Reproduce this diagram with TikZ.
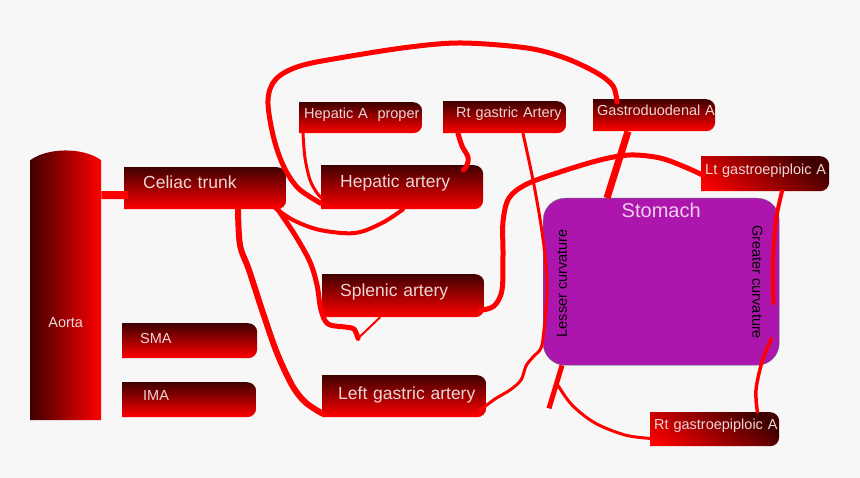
\documentclass[tikz,border=0pt]{standalone}
\usepackage{fontspec}
\setmainfont{Liberation Sans}
\usetikzlibrary{calc}

\definecolor{artred}{RGB}{255,0,0}
\definecolor{artdark}{RGB}{64,0,0}
\definecolor{labelpink}{RGB}{236,214,214}
\definecolor{stomfill}{RGB}{173,22,173}
\definecolor{stomline}{RGB}{105,100,120}
\definecolor{stomtext}{RGB}{240,206,240}
\definecolor{pagegray}{RGB}{247,247,247}

\tikzset{
  artshade/.style={top color=artdark, bottom color=artred},
  artbox/.style={anchor=north west, inner ysep=0pt, align=left, text=labelpink,
    path picture={\shade[artshade, rounded corners=9pt]
      ([xshift=-20pt]path picture bounding box.south west) rectangle (path picture bounding box.north east);}},
  bigbox/.style={artbox, minimum height=42pt, font=\fontsize{17.5}{20}\selectfont,
    text height=12.5pt, text depth=11pt},
  smallbox/.style={artbox, minimum height=32pt, font=\fontsize{14.5}{17}\selectfont,
    text height=10.4pt, text depth=9pt},
  artline/.style={draw=artred, line width=#1, line cap=round, line join=round},
  artline/.default=4pt,
  curvetext/.style={font=\fontsize{14.5}{17}\selectfont, text=black, inner sep=0pt},
}

\begin{document}
\begin{tikzpicture}[x=1pt,y=-1pt]
  \fill[pagegray] (0,0) rectangle (860,478);
  \useasboundingbox (0,0) rectangle (860,478);

  \node[anchor=north west, minimum width=71pt, minimum height=270pt, inner sep=0pt,
    text=labelpink, font=\fontsize{14.5}{17}\selectfont, text height=84pt, text depth=0pt,
    path picture={\shade[left color=artdark, right color=artred]
      ([yshift=-10pt]path picture bounding box.north west)
      .. controls ([xshift=18pt,yshift=3pt]path picture bounding box.north west)
      and ([xshift=-18pt,yshift=3pt]path picture bounding box.north east) ..
      ([yshift=-10pt]path picture bounding box.north east)
      -- (path picture bounding box.south east) -- (path picture bounding box.south west) -- cycle;}]
    (aorta) at (30,150) {Aorta};

  \node[bigbox, text width=124pt, inner xsep=19pt] (cel) at (124,167) {\rlap{Celiac trunk}};
  \node[bigbox, minimum height=44pt, text width=124pt, inner xsep=19pt] (hep) at (321,165) {\rlap{Hepatic artery}};
  \node[bigbox, minimum height=43pt, text width=126pt, inner xsep=18pt] (spl) at (322,274) {\rlap{Splenic artery}};
  \node[bigbox, text depth=6pt, text width=132pt, inner xsep=16pt] (lga) at (322,375) {\rlap{Left gastric artery}};
  \node[smallbox, minimum height=35pt, text depth=5pt, text width=99pt, inner xsep=18pt] (sma) at (122,323) {\rlap{SMA}};
  \node[smallbox, minimum height=35pt, text depth=8pt, text width=92pt, inner xsep=21pt] (ima) at (122,382) {\rlap{IMA}};
  \node[smallbox, minimum height=31pt, text width=113pt, inner xsep=5pt] (hap) at (299,102) {\rlap{Hepatic A~~proper}};
  \node[smallbox, text width=97pt, inner xsep=13pt] (rga) at (443,101) {\rlap{Rt gastric Artery}};
  \node[smallbox, text width=114pt, inner xsep=4pt] (gda) at (593,99) {\rlap{Gastroduodenal A}};
  \node[smallbox, minimum height=35pt, text width=120pt, inner xsep=4pt,
    artshade/.style={top color=artdark, bottom color=artred, shading angle=-35}] (lge) at (701,156) {\rlap{Lt gastroepiploic A}};
  \node[smallbox, minimum height=34pt, text width=121pt, inner xsep=4pt,
    artshade/.style={top color=artdark, bottom color=artred, shading angle=-35}] (rge) at (650,412) {\rlap{Rt gastroepiploic A}};

  \node[draw=stomline, fill=stomfill, rounded corners=22pt, anchor=north west, inner sep=0pt,
    minimum width=236pt, minimum height=167pt, text=stomtext, font=\fontsize{20}{24}\selectfont,
    text height=14.3pt, text depth=142pt] (stom) at (543,198) {Stomach};
  \node[curvetext, rotate=90] (lesser) at ($(stom.west)+(19,1.5)$) {Lesser curvature};
  \node[curvetext, rotate=-90] (greater) at ($(stom.east)+(-22,0.5)$) {Greater curvature};

  \coordinate (spltip) at ($(spl.south west)+(36,21)$);
  \coordinate (gcup) at ($(stom.east)+(-6,21.5)$);
  \coordinate (lcstub) at ($(stom.south west)+(6,43)$);
  \coordinate (lcfork) at ($(stom.south west)+(15,20)$);

  \draw[draw=artred, line width=8pt] ($(aorta.north east)+(0,45)$) -- ($(cel.west)+(4,7)$);
  \draw[artline=5pt] plot[smooth, tension=0.55] coordinates {($(hep.south west)+(0,-6)$)
    (298,188) (283,165) (273,135) (268,100) (276,79) (300,66) (345,57) (410,47) (462,43)
    (527,48) (565,58) (597,73) (613,86) ($(gda.north west)+(24,3)$)};
  \draw[artline=3pt] plot[smooth, tension=0.55] coordinates {($(hap.south west)+(4,0)$)
    (305,158) (310,180) (317,193) ($(hep.south west)+(1,-11)$)};
  \draw[artline=5pt] plot[smooth, tension=0.55] coordinates {($(rga.south west)+(15,0)$)
    (462,146) (468,157) (467,165) ($(hep.north east)+(-20,5)$)};
  \draw[artline=3pt] plot[smooth, tension=0.55] coordinates {($(rga.south west)+(80,0)$)
    (533,180) (541,225) (546,265) (547,295) (544,330) (541,348) (533,357) (526,366)
    (521,380) (510,390) (495,399) ($(lga.south east)+(-8,-6)$)};
  \draw[artline=4pt] plot[smooth, tension=0.55] coordinates {($(cel.south east)+(-12,-2)$)
    (293,220) (320,230) (355,233) (382,223) ($(hep.south west)+(82,0)$)};
  \draw[artline=5pt] plot[smooth, tension=0.55] coordinates {($(cel.south east)+(-10,-2)$)
    (295,235) (310,262) (317,285) (321,310) (328,324) (345,327) (354,329) (spltip)};
  \draw[artline=2pt] (spltip) -- ($(spl.south west)+(58,0)$);
  \draw[artline=6pt] plot[smooth, tension=0.55] coordinates {($(cel.south west)+(114,0)$)
    (240,245) (249,270) (263,313) (277,353) (292,385) (305,402) ($(lga.south west)+(0,-4)$)};
  \draw[artline=5pt] plot[smooth, tension=0.55] coordinates {($(spl.south east)+(-4,-7)$)
    (494,306) (502,290) (503,255) (503,222) (509,198) (527,184) (560,172) (600,160)
    (630,155) (660,158) (685,167) ($(lge.west)+(2,1.5)$)};
  \draw[artline=7pt, line cap=butt] ($(gda.south west)+(35,0)$) -- ($(stom.north west)+(64,0)$);
  \draw[artline=4pt] plot[smooth, tension=0.55] coordinates {($(lge.south west)+(81,0)$)
    (776,220) (773,260) (gcup)};
  \draw[artline=3.5pt] plot[smooth, tension=0.55] coordinates {($(stom.south east)+(-8,-27)$)
    (762,362) (756,390) ($(rge.north east)+(-22,0)$)};
  \draw[artline=5pt, line cap=butt] ($(stom.south west)+(19,0)$) -- (lcstub);
  \draw[artline=3pt] plot[smooth, tension=0.55] coordinates {(lcfork)
    (572,405) (595,423) (625,435) ($(rge.south west)+(0,-8)$)};
\end{tikzpicture}
\end{document}
